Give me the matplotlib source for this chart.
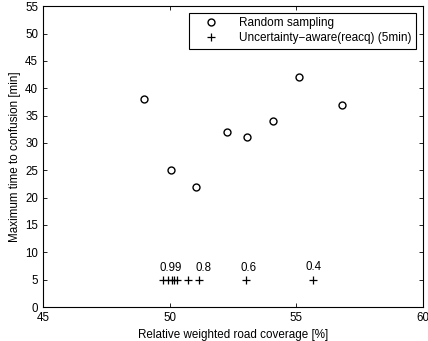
import matplotlib.pyplot as plt

plt.rcParams['font.family'] = ['Liberation Sans', 'DejaVu Sans']

# Random sampling
random_cov = [49.0, 50.05, 51.03, 52.25, 53.05, 54.1, 55.1, 56.8]
random_time = [38, 25, 22, 32, 31, 34, 42, 37]

# Uncertainty-aware (reacq), 5 min
unc_cov = [49.75, 49.95, 50.08, 50.18, 50.28, 50.72, 51.15, 53.0, 55.65]
unc_time = [5, 5, 5, 5, 5, 5, 5, 5, 5]

# threshold labels
thr_labels = ['0.99', '0.8', '0.6', '0.4']
thr_x = [50.06, 51.35, 53.1, 55.7]
thr_y = [7.1, 7.1, 7.1, 7.3]

fig = plt.figure(figsize=(4.28, 3.41), dpi=100)
ax = fig.add_axes([0.1005, 0.0997, 0.8875, 0.882])

ax.plot(random_cov, random_time, 'o', mfc='none', mec='black', ms=5, mew=1.0,
        label='Random sampling', linestyle='none')
ax.plot(unc_cov, unc_time, '+', color='black', ms=6, mew=0.9,
        label='Uncertainty\u2212aware(reacq) (5min)', linestyle='none')

for t, x, y in zip(thr_labels, thr_x, thr_y):
    ax.text(x, y, t, ha='center', va='center', fontsize=8.3)

ax.set_xlim(45, 60)
ax.set_ylim(0, 55)
ax.set_xticks([45, 50, 55, 60])
ax.set_yticks(range(0, 56, 5))
ax.tick_params(direction='in', top=True, right=True, labelsize=8.3, length=3, width=0.6)
for s in ax.spines.values():
    s.set_linewidth(0.8)

ax.set_xlabel('Relative weighted road coverage [%]', fontsize=8.4, labelpad=4)
ax.set_ylabel('Maximum time to confusion [min]', fontsize=8.4, labelpad=3)

leg = ax.legend(loc='upper right', fontsize=8.5, fancybox=False, framealpha=1,
                edgecolor='black', borderaxespad=0.6, handlelength=3.0,
                handletextpad=0.9, borderpad=0.35, labelspacing=0.25)
leg.get_frame().set_linewidth(0.8)

fig.savefig('out.png', dpi=100)
